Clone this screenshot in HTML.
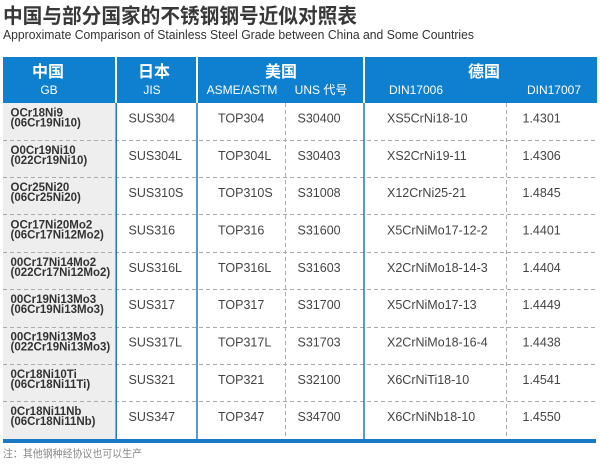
<!DOCTYPE html>
<html><head><meta charset="utf-8"><style>
html,body{margin:0;padding:0;background:#fff;}
svg{display:block;}
</style></head><body>
<svg width="600" height="468" viewBox="0 0 600 468" xmlns="http://www.w3.org/2000/svg">
<rect width="600" height="468" fill="#fff"/>
<text x="3" y="23" font-family="'Liberation Sans','Noto Sans CJK SC',sans-serif" font-weight="bold" font-size="20.5" fill="#383838" textLength="354" lengthAdjust="spacingAndGlyphs">中国与部分国家的不锈钢钢号近似对照表</text>
<text x="3" y="39" font-family="'Liberation Sans',sans-serif" font-size="13" fill="#333" textLength="471" lengthAdjust="spacingAndGlyphs">Approximate Comparison of Stainless Steel Grade between China and Some Countries</text>

<!-- header -->
<g fill="#0f7fd0">
<rect x="3" y="57" width="112" height="46"/>
<rect x="117" y="57" width="79" height="46"/>
<rect x="198" y="57" width="165" height="46"/>
<rect x="365" y="57" width="232" height="46"/>
</g>
<g font-family="'Liberation Sans','Noto Sans CJK SC',sans-serif" fill="#fff" text-anchor="middle">
<g font-weight="bold" font-size="16">
<text x="48" y="77">中国</text>
<text x="154" y="77">日本</text>
<text x="281" y="77">美国</text>
<text x="484" y="77">德国</text>
</g>
<g font-size="12">
<text x="49" y="94">GB</text>
<text x="152" y="94">JIS</text>
<text x="242" y="94">ASME/ASTM</text>
<text x="321" y="94">UNS 代号</text>
<text x="416" y="94">DIN17006</text>
<text x="554" y="94">DIN17007</text>
</g>
</g>

<!-- gray col -->
<rect x="3" y="103" width="113" height="336" fill="#eeeeee"/>

<!-- dashed lines -->
<g stroke="#aaaaaa" stroke-width="1" stroke-dasharray="4 3" fill="none">
<line x1="3" y1="140.5" x2="596" y2="140.5"/>
<line x1="3" y1="177.5" x2="596" y2="177.5"/>
<line x1="3" y1="214.5" x2="596" y2="214.5"/>
<line x1="3" y1="252.5" x2="596" y2="252.5"/>
<line x1="3" y1="289.5" x2="596" y2="289.5"/>
<line x1="3" y1="327.5" x2="596" y2="327.5"/>
<line x1="3" y1="364.5" x2="596" y2="364.5"/>
<line x1="3" y1="401.5" x2="596" y2="401.5"/>
<line x1="285.5" y1="103" x2="285.5" y2="439"/>
<line x1="506.5" y1="103" x2="506.5" y2="439"/>
</g>
<!-- solid blue verticals -->
<g stroke="#2377bf" stroke-width="1.5">
<line x1="116.2" y1="103" x2="116.2" y2="439"/>
<line x1="197" y1="103" x2="197" y2="439"/>
<line x1="364" y1="103" x2="364" y2="439"/>
</g>
<rect x="3" y="439" width="593" height="4" fill="#1a78c6"/>

<!-- col1 -->
<g font-family="'Liberation Sans',sans-serif" font-weight="bold" font-size="11.5" fill="#333">
<text x="10.5" y="116.5">OCr18Ni9</text><text x="10.5" y="126.5">(06Cr19Ni10)</text>
<text x="10.5" y="153.8">O0Cr19Ni10</text><text x="10.5" y="163.8">(022Cr19Ni10)</text>
<text x="10.5" y="191.2">OCr25Ni20</text><text x="10.5" y="201.2">(06Cr25Ni20)</text>
<text x="10.5" y="228.5">OCr17Ni20Mo2</text><text x="10.5" y="238.5">(06Cr17Ni12Mo2)</text>
<text x="10.5" y="265.8">00Cr17Ni14Mo2</text><text x="10.5" y="275.8">(022Cr17Ni12Mo2)</text>
<text x="10.5" y="303.2">00Cr19Ni13Mo3</text><text x="10.5" y="313.2">(06Cr19Ni13Mo3)</text>
<text x="10.5" y="340.5">00Cr19Ni13Mo3</text><text x="10.5" y="350.5">(022Cr19Ni13Mo3)</text>
<text x="10.5" y="377.8">0Cr18Ni10Ti</text><text x="10.5" y="387.8">(06Cr18Ni11Ti)</text>
<text x="10.5" y="415.2">0Cr18Ni11Nb</text><text x="10.5" y="425.2">(06Cr18Ni11Nb)</text>
</g>

<g font-family="'Liberation Sans',sans-serif" font-size="12.5" fill="#444">
<g transform="translate(0,122.5)">
<text x="128.5" y="0">SUS304</text><text x="218" y="0">TOP304</text><text x="297.5" y="0">S30400</text><text x="387" y="0">XS5CrNi18-10</text><text x="522.5" y="0">1.4301</text>
</g>
<g transform="translate(0,159.8)">
<text x="128.5" y="0">SUS304L</text><text x="218" y="0">TOP304L</text><text x="297.5" y="0">S30403</text><text x="387" y="0">XS2CrNi19-11</text><text x="522.5" y="0">1.4306</text>
</g>
<g transform="translate(0,197.2)">
<text x="128.5" y="0">SUS310S</text><text x="218" y="0">TOP310S</text><text x="297.5" y="0">S31008</text><text x="387" y="0">X12CrNi25-21</text><text x="522.5" y="0">1.4845</text>
</g>
<g transform="translate(0,234.5)">
<text x="128.5" y="0">SUS316</text><text x="218" y="0">TOP316</text><text x="297.5" y="0">S31600</text><text x="387" y="0">X5CrNiMo17-12-2</text><text x="522.5" y="0">1.4401</text>
</g>
<g transform="translate(0,271.8)">
<text x="128.5" y="0">SUS316L</text><text x="218" y="0">TOP316L</text><text x="297.5" y="0">S31603</text><text x="387" y="0">X2CrNiMo18-14-3</text><text x="522.5" y="0">1.4404</text>
</g>
<g transform="translate(0,309.2)">
<text x="128.5" y="0">SUS317</text><text x="218" y="0">TOP317</text><text x="297.5" y="0">S31700</text><text x="387" y="0">X5CrNiMo17-13</text><text x="522.5" y="0">1.4449</text>
</g>
<g transform="translate(0,346.5)">
<text x="128.5" y="0">SUS317L</text><text x="218" y="0">TOP317L</text><text x="297.5" y="0">S31703</text><text x="387" y="0">X2CrNiMo18-16-4</text><text x="522.5" y="0">1.4438</text>
</g>
<g transform="translate(0,383.8)">
<text x="128.5" y="0">SUS321</text><text x="218" y="0">TOP321</text><text x="297.5" y="0">S32100</text><text x="387" y="0">X6CrNiTi18-10</text><text x="522.5" y="0">1.4541</text>
</g>
<g transform="translate(0,421.2)">
<text x="128.5" y="0">SUS347</text><text x="218" y="0">TOP347</text><text x="297.5" y="0">S34700</text><text x="387" y="0">X6CrNiNb18-10</text><text x="522.5" y="0">1.4550</text>
</g>
</g>

<text x="3" y="457" font-family="'Liberation Sans','Noto Sans CJK SC',sans-serif" font-size="10.5" fill="#888" textLength="139" lengthAdjust="spacingAndGlyphs">注：其他钢种经协议也可以生产</text>
</svg>
</body></html>
